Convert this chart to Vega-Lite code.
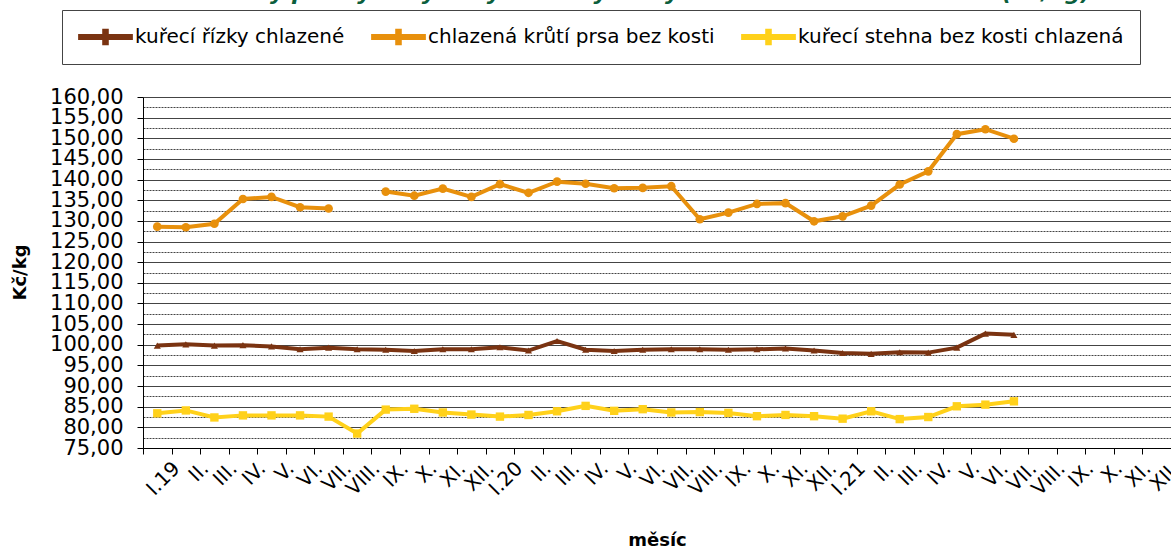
{
  "$schema": "https://vega.github.io/schema/vega-lite/v6.json",
  "width": 1028,
  "height": 351,
  "autosize": {"type": "none"},
  "padding": {"left": 143, "top": 97, "right": 0, "bottom": 101},
  "background": "white",
  "config": {
    "locale": {"number": {"decimal": ",", "thousands": " ", "grouping": [3], "currency": ["", " Kč"]}}
  },
  "title": {
    "text": "Ceny průmyslových výrobců vybraných druhů drůbežího masa (Kč/kg)",
    "frame": "group",
    "anchor": "middle",
    "fontSize": 22,
    "font": "DejaVu Sans",
    "fontWeight": "bold",
    "fontStyle": "italic",
    "color": "#0B5E3C",
    "offset": 5
  },
  "data": {
    "values": [
      {"m": "2019-01", "s": "kuřecí řízky chlazené", "g": 1, "v": 99.8},
      {"m": "2019-02", "s": "kuřecí řízky chlazené", "g": 1, "v": 100.1},
      {"m": "2019-03", "s": "kuřecí řízky chlazené", "g": 1, "v": 99.8},
      {"m": "2019-04", "s": "kuřecí řízky chlazené", "g": 1, "v": 99.9},
      {"m": "2019-05", "s": "kuřecí řízky chlazené", "g": 1, "v": 99.6},
      {"m": "2019-06", "s": "kuřecí řízky chlazené", "g": 1, "v": 98.9},
      {"m": "2019-07", "s": "kuřecí řízky chlazené", "g": 1, "v": 99.3},
      {"m": "2019-08", "s": "kuřecí řízky chlazené", "g": 1, "v": 98.9},
      {"m": "2019-09", "s": "kuřecí řízky chlazené", "g": 1, "v": 98.8},
      {"m": "2019-10", "s": "kuřecí řízky chlazené", "g": 1, "v": 98.5},
      {"m": "2019-11", "s": "kuřecí řízky chlazené", "g": 1, "v": 98.9},
      {"m": "2019-12", "s": "kuřecí řízky chlazené", "g": 1, "v": 98.9},
      {"m": "2020-01", "s": "kuřecí řízky chlazené", "g": 1, "v": 99.4},
      {"m": "2020-02", "s": "kuřecí řízky chlazené", "g": 1, "v": 98.6},
      {"m": "2020-03", "s": "kuřecí řízky chlazené", "g": 1, "v": 100.9},
      {"m": "2020-04", "s": "kuřecí řízky chlazené", "g": 1, "v": 98.8},
      {"m": "2020-05", "s": "kuřecí řízky chlazené", "g": 1, "v": 98.5},
      {"m": "2020-06", "s": "kuřecí řízky chlazené", "g": 1, "v": 98.8},
      {"m": "2020-07", "s": "kuřecí řízky chlazené", "g": 1, "v": 98.9},
      {"m": "2020-08", "s": "kuřecí řízky chlazené", "g": 1, "v": 98.9},
      {"m": "2020-09", "s": "kuřecí řízky chlazené", "g": 1, "v": 98.8},
      {"m": "2020-10", "s": "kuřecí řízky chlazené", "g": 1, "v": 98.9},
      {"m": "2020-11", "s": "kuřecí řízky chlazené", "g": 1, "v": 99.1},
      {"m": "2020-12", "s": "kuřecí řízky chlazené", "g": 1, "v": 98.6},
      {"m": "2021-01", "s": "kuřecí řízky chlazené", "g": 1, "v": 98.0},
      {"m": "2021-02", "s": "kuřecí řízky chlazené", "g": 1, "v": 97.8},
      {"m": "2021-03", "s": "kuřecí řízky chlazené", "g": 1, "v": 98.2},
      {"m": "2021-04", "s": "kuřecí řízky chlazené", "g": 1, "v": 98.1},
      {"m": "2021-05", "s": "kuřecí řízky chlazené", "g": 1, "v": 99.3},
      {"m": "2021-06", "s": "kuřecí řízky chlazené", "g": 1, "v": 102.7},
      {"m": "2021-07", "s": "kuřecí řízky chlazené", "g": 1, "v": 102.4},
      {"m": "2019-01", "s": "chlazená krůtí prsa bez kosti", "g": 1, "v": 128.6},
      {"m": "2019-02", "s": "chlazená krůtí prsa bez kosti", "g": 1, "v": 128.45},
      {"m": "2019-03", "s": "chlazená krůtí prsa bez kosti", "g": 1, "v": 129.3},
      {"m": "2019-04", "s": "chlazená krůtí prsa bez kosti", "g": 1, "v": 135.3},
      {"m": "2019-05", "s": "chlazená krůtí prsa bez kosti", "g": 1, "v": 135.8},
      {"m": "2019-06", "s": "chlazená krůtí prsa bez kosti", "g": 1, "v": 133.3},
      {"m": "2019-07", "s": "chlazená krůtí prsa bez kosti", "g": 1, "v": 133.0},
      {"m": "2019-09", "s": "chlazená krůtí prsa bez kosti", "g": 2, "v": 137.1},
      {"m": "2019-10", "s": "chlazená krůtí prsa bez kosti", "g": 2, "v": 136.1},
      {"m": "2019-11", "s": "chlazená krůtí prsa bez kosti", "g": 2, "v": 137.8},
      {"m": "2019-12", "s": "chlazená krůtí prsa bez kosti", "g": 2, "v": 135.8},
      {"m": "2020-01", "s": "chlazená krůtí prsa bez kosti", "g": 2, "v": 138.9},
      {"m": "2020-02", "s": "chlazená krůtí prsa bez kosti", "g": 2, "v": 136.8},
      {"m": "2020-03", "s": "chlazená krůtí prsa bez kosti", "g": 2, "v": 139.5},
      {"m": "2020-04", "s": "chlazená krůtí prsa bez kosti", "g": 2, "v": 139.0},
      {"m": "2020-05", "s": "chlazená krůtí prsa bez kosti", "g": 2, "v": 137.9},
      {"m": "2020-06", "s": "chlazená krůtí prsa bez kosti", "g": 2, "v": 138.0},
      {"m": "2020-07", "s": "chlazená krůtí prsa bez kosti", "g": 2, "v": 138.4},
      {"m": "2020-08", "s": "chlazená krůtí prsa bez kosti", "g": 2, "v": 130.4},
      {"m": "2020-09", "s": "chlazená krůtí prsa bez kosti", "g": 2, "v": 132.0},
      {"m": "2020-10", "s": "chlazená krůtí prsa bez kosti", "g": 2, "v": 134.1},
      {"m": "2020-11", "s": "chlazená krůtí prsa bez kosti", "g": 2, "v": 134.3},
      {"m": "2020-12", "s": "chlazená krůtí prsa bez kosti", "g": 2, "v": 129.9},
      {"m": "2021-01", "s": "chlazená krůtí prsa bez kosti", "g": 2, "v": 131.1},
      {"m": "2021-02", "s": "chlazená krůtí prsa bez kosti", "g": 2, "v": 133.7},
      {"m": "2021-03", "s": "chlazená krůtí prsa bez kosti", "g": 2, "v": 138.8},
      {"m": "2021-04", "s": "chlazená krůtí prsa bez kosti", "g": 2, "v": 142.0},
      {"m": "2021-05", "s": "chlazená krůtí prsa bez kosti", "g": 2, "v": 151.0},
      {"m": "2021-06", "s": "chlazená krůtí prsa bez kosti", "g": 2, "v": 152.2},
      {"m": "2021-07", "s": "chlazená krůtí prsa bez kosti", "g": 2, "v": 149.9},
      {"m": "2019-01", "s": "kuřecí stehna bez kosti chlazená", "g": 1, "v": 83.4},
      {"m": "2019-02", "s": "kuřecí stehna bez kosti chlazená", "g": 1, "v": 84.1},
      {"m": "2019-03", "s": "kuřecí stehna bez kosti chlazená", "g": 1, "v": 82.4},
      {"m": "2019-04", "s": "kuřecí stehna bez kosti chlazená", "g": 1, "v": 82.9},
      {"m": "2019-05", "s": "kuřecí stehna bez kosti chlazená", "g": 1, "v": 82.9},
      {"m": "2019-06", "s": "kuřecí stehna bez kosti chlazená", "g": 1, "v": 82.9},
      {"m": "2019-07", "s": "kuřecí stehna bez kosti chlazená", "g": 1, "v": 82.6},
      {"m": "2019-08", "s": "kuřecí stehna bez kosti chlazená", "g": 1, "v": 78.5},
      {"m": "2019-09", "s": "kuřecí stehna bez kosti chlazená", "g": 1, "v": 84.3},
      {"m": "2019-10", "s": "kuřecí stehna bez kosti chlazená", "g": 1, "v": 84.5},
      {"m": "2019-11", "s": "kuřecí stehna bez kosti chlazená", "g": 1, "v": 83.6},
      {"m": "2019-12", "s": "kuřecí stehna bez kosti chlazená", "g": 1, "v": 83.1},
      {"m": "2020-01", "s": "kuřecí stehna bez kosti chlazená", "g": 1, "v": 82.6},
      {"m": "2020-02", "s": "kuřecí stehna bez kosti chlazená", "g": 1, "v": 83.0},
      {"m": "2020-03", "s": "kuřecí stehna bez kosti chlazená", "g": 1, "v": 83.9},
      {"m": "2020-04", "s": "kuřecí stehna bez kosti chlazená", "g": 1, "v": 85.2},
      {"m": "2020-05", "s": "kuřecí stehna bez kosti chlazená", "g": 1, "v": 84.0},
      {"m": "2020-06", "s": "kuřecí stehna bez kosti chlazená", "g": 1, "v": 84.4},
      {"m": "2020-07", "s": "kuřecí stehna bez kosti chlazená", "g": 1, "v": 83.6},
      {"m": "2020-08", "s": "kuřecí stehna bez kosti chlazená", "g": 1, "v": 83.7},
      {"m": "2020-09", "s": "kuřecí stehna bez kosti chlazená", "g": 1, "v": 83.5},
      {"m": "2020-10", "s": "kuřecí stehna bez kosti chlazená", "g": 1, "v": 82.7},
      {"m": "2020-11", "s": "kuřecí stehna bez kosti chlazená", "g": 1, "v": 83.0},
      {"m": "2020-12", "s": "kuřecí stehna bez kosti chlazená", "g": 1, "v": 82.7},
      {"m": "2021-01", "s": "kuřecí stehna bez kosti chlazená", "g": 1, "v": 82.1},
      {"m": "2021-02", "s": "kuřecí stehna bez kosti chlazená", "g": 1, "v": 83.9},
      {"m": "2021-03", "s": "kuřecí stehna bez kosti chlazená", "g": 1, "v": 82.0},
      {"m": "2021-04", "s": "kuřecí stehna bez kosti chlazená", "g": 1, "v": 82.5},
      {"m": "2021-05", "s": "kuřecí stehna bez kosti chlazená", "g": 1, "v": 85.1},
      {"m": "2021-06", "s": "kuřecí stehna bez kosti chlazená", "g": 1, "v": 85.5},
      {"m": "2021-07", "s": "kuřecí stehna bez kosti chlazená", "g": 1, "v": 86.3}
    ]
  },
  "encoding": {
    "x": {
      "field": "m",
      "type": "ordinal",
      "sort": null,
      "scale": {
        "domain": ["2019-01","2019-02","2019-03","2019-04","2019-05","2019-06","2019-07","2019-08","2019-09","2019-10","2019-11","2019-12",
                   "2020-01","2020-02","2020-03","2020-04","2020-05","2020-06","2020-07","2020-08","2020-09","2020-10","2020-11","2020-12",
                   "2021-01","2021-02","2021-03","2021-04","2021-05","2021-06","2021-07","2021-08","2021-09","2021-10","2021-11","2021-12"],
        "paddingInner": 0,
        "paddingOuter": 0
      },
      "axis": {
        "title": "měsíc",
        "titleFont": "DejaVu Sans",
        "titleFontSize": 18,
        "titleFontWeight": "bold",
        "titleColor": "#000",
        "titleX": 514,
        "titleY": 92,
        "titleAlign": "center",
        "titleBaseline": "middle",
        "labelExpr": "(isString(datum.value) && length(datum.value) == 7) ? (slice(datum.value,5)=='01' ? 'I.' + slice(datum.value,2,4) : ['I','II','III','IV','V','VI','VII','VIII','IX','X','XI','XII'][toNumber(slice(datum.value,5))-1] + '.') : ''",
        "labelAngle": -45,
        "labelAlign": "right",
        "labelBaseline": "top",
        "labelFont": "DejaVu Sans",
        "labelFontSize": 20,
        "labelColor": "#000",
        "labelPadding": 4,
        "labelOffset": 12,
        "tickBand": "extent",
        "tickSize": 6,
        "tickColor": "#000",
        "domainColor": "#000",
        "grid": false
      }
    },
    "y": {
      "field": "v",
      "type": "quantitative",
      "scale": {"domain": [75, 160], "nice": false, "zero": false},
      "axis": {
        "title": "Kč/kg",
        "titleFont": "DejaVu Sans",
        "titleFontSize": 18,
        "titleFontWeight": "bold",
        "titleColor": "#000",
        "titleX": -123,
        "titleY": 175,
        "titleAngle": -90,
        "titleAlign": "center",
        "titleBaseline": "middle",
        "values": [75,77.5,80,82.5,85,87.5,90,92.5,95,97.5,100,102.5,105,107.5,110,112.5,115,117.5,120,122.5,125,127.5,130,132.5,135,137.5,140,142.5,145,147.5,150,152.5,155,157.5,160],
        "format": ".2f",
        "labelExpr": "datum.value % 5 == 0 ? datum.label : ''",
        "labelFont": "DejaVu Sans",
        "labelFontSize": 21,
        "labelColor": "#000",
        "labelPadding": 14,
        "labelOverlap": false,
        "tickSize": 6,
        "tickColor": "#000",
        "tickOpacity": {"condition": {"test": "datum.value % 5 !== 0", "value": 0}, "value": 1},
        "domainColor": "#000",
        "grid": true,
        "gridColor": "#444",
        "gridWidth": 1,
        "gridDash": {"condition": {"test": "datum.value % 5 !== 0", "value": [2, 1]}, "value": []}
      }
    },
    "color": {
      "field": "s",
      "type": "nominal",
      "sort": null,
      "scale": {
        "domain": ["kuřecí řízky chlazené", "chlazená krůtí prsa bez kosti", "kuřecí stehna bez kosti chlazená"],
        "range": ["#7A3311", "#E8900C", "#FFD11A"]
      },
      "legend": {
        "orient": "none",
        "legendX": -81,
        "legendY": -87,
        "direction": "horizontal",
        "columns": 3,
        "title": null,
        "labelFont": "DejaVu Sans",
        "labelFontSize": 20,
        "labelColor": "#000",
        "labelLimit": 500,
        "labelOffset": 2,
        "symbolType": "M-1,-0.11H1V0.11H-1Z M-0.12,-0.3H0.12V0.3H-0.12Z",
        "symbolSize": 3000,
        "symbolStrokeWidth": 0,
        "symbolFillColor": "#7A3311",
        "clipHeight": 22,
        "fillColor": "white",
        "strokeColor": "#444",
        "padding": 16,
        "columnPadding": 26
      }
    }
  },
  "layer": [
    {
      "mark": {"type": "line", "strokeWidth": 4},
      "encoding": {"detail": {"field": "g", "type": "nominal"}}
    },
    {
      "transform": [{"filter": "datum.s == 'kuřecí řízky chlazené'"}],
      "mark": {"type": "point", "filled": true, "opacity": 1, "size": 50, "shape": "triangle-up"}
    },
    {
      "transform": [{"filter": "datum.s == 'chlazená krůtí prsa bez kosti'"}],
      "mark": {"type": "point", "filled": true, "opacity": 1, "size": 75, "shape": "circle"}
    },
    {
      "transform": [{"filter": "datum.s == 'kuřecí stehna bez kosti chlazená'"}],
      "mark": {"type": "point", "filled": true, "opacity": 1, "size": 70, "shape": "square"}
    }
  ]
}
